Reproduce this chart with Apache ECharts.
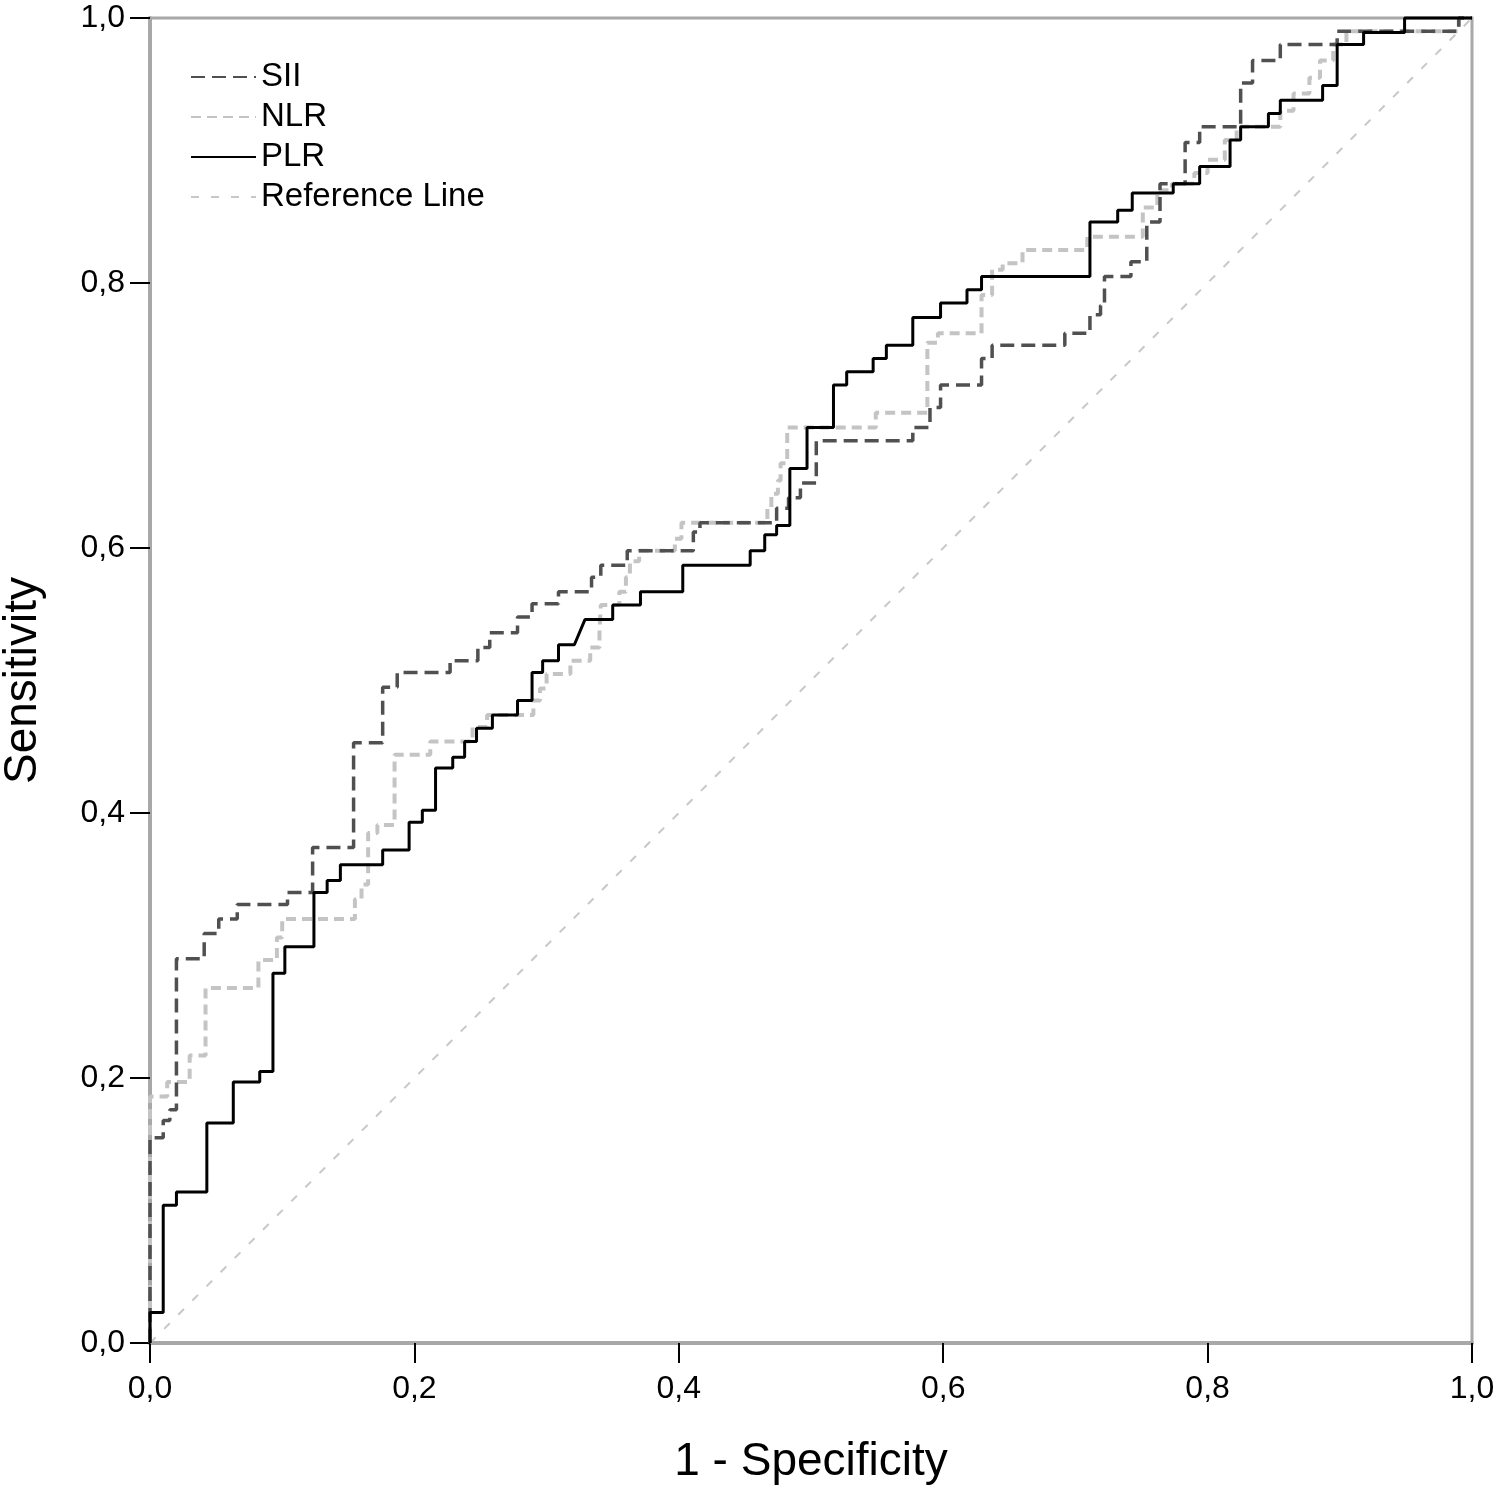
<!DOCTYPE html>
<html>
<head>
<meta charset="utf-8">
<script src="https://cdn.jsdelivr.net/npm/echarts@6/dist/echarts.min.js"></script>
<style>
html,body{margin:0;padding:0;background:#fff;}
#chart{width:1500px;height:1491px;}
</style>
</head>
<body>
<div id="chart"></div>
<script>
// ROC points [1 - Specificity, Sensitivity]
const siiPoints = [
  [0,0],[0,0.155],[0.010,0.155],[0.010,0.168],[0.015,0.168],[0.015,0.176],[0.020,0.176],[0.020,0.290],
  [0.041,0.290],[0.041,0.309],[0.052,0.309],[0.052,0.320],[0.066,0.320],[0.066,0.331],[0.104,0.331],
  [0.104,0.340],[0.123,0.340],[0.123,0.374],[0.154,0.374],[0.154,0.453],[0.176,0.453],[0.176,0.495],
  [0.187,0.495],[0.187,0.506],[0.227,0.506],[0.227,0.515],[0.248,0.515],[0.248,0.525],[0.257,0.525],
  [0.257,0.536],[0.278,0.536],[0.278,0.548],[0.289,0.548],[0.289,0.558],[0.309,0.558],[0.309,0.567],
  [0.334,0.567],[0.334,0.578],[0.341,0.578],[0.341,0.587],[0.361,0.587],[0.361,0.598],[0.411,0.598],
  [0.411,0.612],[0.416,0.612],[0.416,0.619],[0.474,0.619],[0.474,0.630],[0.483,0.630],[0.483,0.638],
  [0.492,0.638],[0.492,0.649],[0.504,0.649],[0.504,0.681],[0.577,0.681],[0.577,0.691],[0.590,0.691],
  [0.590,0.706],[0.598,0.706],[0.598,0.723],[0.629,0.723],[0.629,0.743],[0.637,0.743],[0.637,0.753],
  [0.692,0.753],[0.692,0.762],[0.711,0.762],[0.711,0.776],[0.719,0.776],[0.719,0.783],[0.722,0.783],
  [0.722,0.805],[0.742,0.805],[0.742,0.816],[0.754,0.816],[0.754,0.846],[0.764,0.846],[0.764,0.875],
  [0.783,0.875],[0.783,0.906],[0.794,0.906],[0.794,0.918],[0.825,0.918],[0.825,0.951],[0.834,0.951],
  [0.834,0.968],[0.855,0.968],[0.855,0.980],[0.898,0.980],[0.898,0.990],[0.990,0.990],[0.990,1],[1,1]
];
const nlrPoints = [
  [0,0],[0,0.186],[0.013,0.186],[0.013,0.197],[0.030,0.197],[0.030,0.217],[0.042,0.217],[0.042,0.268],
  [0.082,0.268],[0.082,0.289],[0.096,0.289],[0.096,0.306],[0.100,0.306],[0.100,0.320],[0.155,0.320],
  [0.155,0.335],[0.160,0.335],[0.160,0.346],[0.165,0.346],[0.165,0.385],[0.172,0.385],[0.172,0.391],
  [0.185,0.391],[0.185,0.444],[0.212,0.444],[0.212,0.454],[0.244,0.454],[0.244,0.465],[0.255,0.465],
  [0.255,0.474],[0.290,0.474],[0.290,0.485],[0.295,0.485],[0.295,0.494],[0.300,0.494],[0.300,0.505],
  [0.318,0.505],[0.318,0.515],[0.333,0.515],[0.333,0.525],[0.340,0.525],[0.340,0.536],[0.341,0.536],
  [0.341,0.557],[0.355,0.557],[0.355,0.567],[0.360,0.567],[0.360,0.578],[0.363,0.578],[0.363,0.590],
  [0.370,0.590],[0.370,0.598],[0.397,0.598],[0.397,0.607],[0.402,0.607],[0.402,0.619],[0.467,0.619],
  [0.467,0.630],[0.470,0.630],[0.470,0.641],[0.475,0.641],[0.475,0.651],[0.477,0.651],[0.477,0.664],
  [0.482,0.664],[0.482,0.691],[0.549,0.691],[0.549,0.702],[0.588,0.702],[0.588,0.755],[0.596,0.755],
  [0.596,0.762],[0.629,0.762],[0.629,0.791],[0.637,0.791],[0.637,0.810],[0.645,0.810],[0.645,0.815],
  [0.660,0.815],[0.660,0.825],[0.709,0.825],[0.709,0.835],[0.751,0.835],[0.751,0.857],[0.762,0.857],
  [0.762,0.870],[0.773,0.870],[0.773,0.875],[0.790,0.875],[0.790,0.883],[0.800,0.883],[0.800,0.893],
  [0.813,0.893],[0.813,0.908],[0.822,0.908],[0.822,0.918],[0.855,0.918],[0.855,0.930],[0.865,0.930],
  [0.865,0.943],[0.877,0.943],[0.877,0.955],[0.885,0.955],[0.885,0.968],[0.895,0.968],[0.895,0.980],
  [0.905,0.980],[0.905,0.990],[0.990,0.990],[0.990,1],[1,1]
];
const plrPoints = [
  [0,0],[0,0.023],[0.010,0.023],[0.010,0.104],[0.020,0.104],[0.020,0.114],[0.043,0.114],[0.043,0.166],
  [0.063,0.166],[0.063,0.197],[0.083,0.197],[0.083,0.205],[0.093,0.205],[0.093,0.279],[0.102,0.279],
  [0.102,0.299],[0.124,0.299],[0.124,0.340],[0.134,0.340],[0.134,0.349],[0.144,0.349],[0.144,0.361],
  [0.176,0.361],[0.176,0.372],[0.196,0.372],[0.196,0.393],[0.206,0.393],[0.206,0.402],[0.216,0.402],
  [0.216,0.434],[0.229,0.434],[0.229,0.442],[0.238,0.442],[0.238,0.454],[0.247,0.454],[0.247,0.464],
  [0.259,0.464],[0.259,0.474],[0.278,0.474],[0.278,0.485],[0.289,0.485],[0.289,0.506],[0.297,0.506],
  [0.297,0.515],[0.309,0.515],[0.309,0.527],[0.321,0.527],[0.329,0.546],[0.350,0.546],[0.350,0.557],
  [0.371,0.557],[0.371,0.567],[0.403,0.567],[0.403,0.587],[0.454,0.587],[0.454,0.598],[0.465,0.598],
  [0.465,0.610],[0.474,0.610],[0.474,0.617],[0.484,0.617],[0.484,0.660],[0.497,0.660],[0.497,0.691],
  [0.517,0.691],[0.517,0.723],[0.527,0.723],[0.527,0.733],[0.547,0.733],[0.547,0.743],[0.557,0.743],
  [0.557,0.753],[0.577,0.753],[0.577,0.774],[0.598,0.774],[0.598,0.785],[0.618,0.785],[0.618,0.795],
  [0.629,0.795],[0.629,0.805],[0.711,0.805],[0.711,0.846],[0.732,0.846],[0.732,0.855],[0.743,0.855],
  [0.743,0.868],[0.774,0.868],[0.774,0.875],[0.794,0.875],[0.794,0.888],[0.817,0.888],[0.817,0.908],
  [0.825,0.908],[0.825,0.918],[0.846,0.918],[0.846,0.928],[0.855,0.928],[0.855,0.938],[0.887,0.938],
  [0.887,0.949],[0.898,0.949],[0.898,0.980],[0.918,0.980],[0.918,0.989],[0.949,0.989],[0.949,1],[1,1]
];
const refPoints = [[0,0],[1,1]];
const seriesNames = ['SII','NLR','PLR','Reference Line'];
const xTicks = [0,0.2,0.4,0.6,0.8,1.0];
const yTicks = [0,0.2,0.4,0.6,0.8,1.0];

const fontFam = '"Liberation Sans", Arial, sans-serif';
const fmt = v => Number(v).toFixed(1).replace('.', ',');

const chart = echarts.init(document.getElementById('chart'), null, {renderer:'canvas'});
chart.setOption({
  animation: false,
  backgroundColor: '#fff',
  grid: {left:150, right:28, top:18, bottom:148, containLabel:false, outerBoundsMode:'none',
         show:true, borderColor:'#a8a8a8', borderWidth:3, backgroundColor:'transparent'},
  legend: {
    orient:'vertical', left:190, top:60, padding:0,
    data: seriesNames,
    itemWidth:65, itemHeight:20, itemGap:6,
    itemStyle:{opacity:0, color:'rgba(0,0,0,0)', borderWidth:0},
    textStyle:{fontFamily:fontFam, fontSize:33, lineHeight:34, color:'#000', padding:[0,0,0,0]}
  },
  xAxis: {
    type:'value', min:0, max:1, interval:0.2,
    name:'1 - Specificity', nameLocation:'middle', nameGap:96,
    nameTextStyle:{fontFamily:fontFam, fontSize:46, color:'#000'},
    axisLine:{show:true, onZero:false, lineStyle:{color:'#a8a8a8', width:4}},
    axisTick:{show:true, inside:false, length:20, lineStyle:{color:'#000', width:2}},
    axisLabel:{formatter:fmt, fontFamily:fontFam, fontSize:32, color:'#000', margin:30},
    splitLine:{show:false}
  },
  yAxis: {
    type:'value', min:0, max:1, interval:0.2,
    name:'Sensitivity', nameLocation:'middle', nameGap:104,
    nameTextStyle:{fontFamily:fontFam, fontSize:46, color:'#000'},
    axisLine:{show:true, onZero:false, lineStyle:{color:'#a8a8a8', width:4}},
    axisTick:{show:true, inside:false, length:20, lineStyle:{color:'#000', width:2}},
    axisLabel:{formatter:fmt, fontFamily:fontFam, fontSize:32, color:'#000', margin:25},
    splitLine:{show:false}
  },
  series: [
    {name:'Reference Line', type:'line', data:refPoints, symbol:'none', showSymbol:false, clip:false, z:1,
     lineStyle:{color:'#c8c8c8', width:2, type:[8,12]}, itemStyle:{color:'#c8c8c8'}},
    {name:'NLR', type:'line', data:nlrPoints, symbol:'none', showSymbol:false, clip:false, z:2,
     lineStyle:{color:'#c4c4c4', width:4, type:[10,6]}, itemStyle:{color:'#c4c4c4'}},
    {name:'SII', type:'line', data:siiPoints, symbol:'none', showSymbol:false, clip:false, z:3,
     lineStyle:{color:'#505050', width:3.5, type:[14,7]}, itemStyle:{color:'#505050'}},
    {name:'PLR', type:'line', data:plrPoints, symbol:'none', showSymbol:false, clip:false, z:4,
     lineStyle:{color:'#000', width:3}, itemStyle:{color:'#000'}}
  ]
});
</script>
</body>
</html>
